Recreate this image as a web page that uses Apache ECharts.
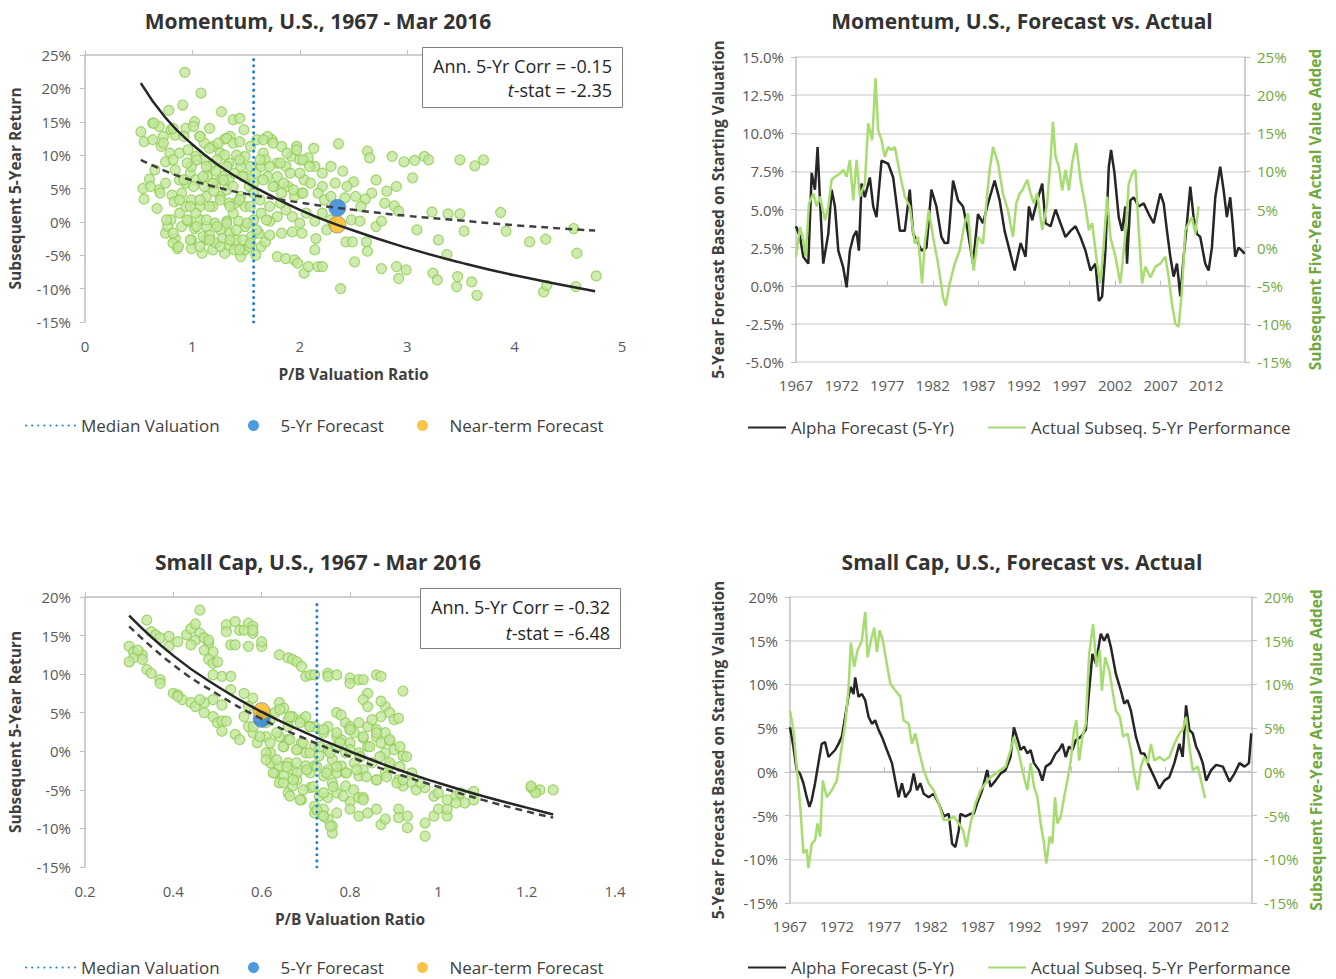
<!DOCTYPE html>
<html>
<head>
<meta charset="utf-8">
<title>Momentum / Small Cap forecasts</title>
<script src="https://cdn.jsdelivr.net/npm/echarts@6/dist/echarts.min.js"></script>
<style>
  html, body { margin: 0; padding: 0; background: #fff; }
  #main { width: 1336px; height: 979px; }
</style>
</head>
<body>
<div id="main"></div>
<script>
// ---- data ----
// momentum scatter: [P/B, subsequent 5-yr return %]
const momScatter = [
  [0.93,22.4],[1.08,19.3],[1.27,16.5],[0.91,17.5],[0.78,16.7],[0.63,14.8],[0.52,13.5],[0.55,12.0],[0.69,14.3],[0.80,13.8],
  [0.94,14.0],[1.02,15.0],[1.16,14.0],[1.30,12.4],[1.38,15.3],[1.44,15.5],[1.48,13.8],[1.35,12.8],[0.63,12.3],[0.73,12.8],
  [0.84,13.0],[1.07,12.8],[1.19,11.3],[1.26,10.3],[0.54,5.0],[0.55,3.4],[0.67,2.0],[0.60,6.4],[0.69,4.8],[0.75,5.8],
  [0.81,4.0],[0.83,3.0],[0.80,0.3],[0.75,-1.7],[0.77,-0.7],[0.84,-2.5],[0.82,-3.2],[0.86,-4.0],[0.99,-2.7],[0.99,-4.0],
  [1.09,-4.7],[1.13,-2.7],[1.19,-4.2],[1.30,-4.7],[1.34,-3.5],[1.39,-4.2],[1.45,-5.2],[1.49,-4.2],[1.53,-3.7],[1.64,-3.7],
  [1.68,-3.0],[1.59,-5.0],[1.79,-5.2],[1.87,-5.5],[1.95,-5.7],[1.98,-6.2],[2.04,-7.7],[2.08,-6.7],[2.17,-6.7],[2.21,-6.7],
  [2.14,-4.2],[2.15,-2.5],[2.25,-1.2],[2.38,-10.0],[2.43,-3.0],[2.49,-3.0],[2.51,-6.0],[2.62,-3.0],[2.63,-4.4],[2.76,-7.0],
  [2.90,-6.7],[2.92,-8.5],[2.99,-7.2],[3.09,-1.2],[3.24,-7.7],[3.28,-8.7],[3.29,-2.7],[3.37,-4.9],[3.46,-9.7],[3.47,-8.2],
  [3.53,-1.4],[3.60,-9.0],[3.65,-11.0],[3.92,-1.4],[4.14,-3.0],[4.29,-2.6],[4.27,-10.5],[4.30,-9.5],[4.55,-1.0],[4.58,-4.7],
  [4.57,-9.7],[4.76,-8.1],[3.87,1.4],[3.49,1.2],[3.38,1.2],[3.23,1.5],[3.49,9.3],[3.63,8.4],[3.71,9.3],[3.16,9.8],
  [3.20,9.3],[3.07,9.2],[2.97,9.0],[2.86,9.8],[3.05,6.6],[2.90,5.3],[2.81,4.6],[2.71,6.3],[2.63,10.6],[2.65,9.6],
  [2.88,2.4],[2.92,1.6],[2.79,2.8],[2.67,4.3],[2.61,3.4],[2.57,2.3],[2.52,3.8],[2.50,6.0],[2.44,5.3],[2.40,7.6],
  [2.36,11.7],[2.29,8.3],[2.21,5.3],[2.14,8.3],[2.13,11.0],[2.08,9.6],[2.04,6.3],[2.00,7.3],[1.97,11.3],[1.92,9.8],
  [1.87,8.3],[1.83,11.3],[1.79,8.8],[1.74,12.3],[1.70,12.8],[1.66,10.3],[1.60,12.3],[1.54,11.3],[1.49,9.8],[1.41,10.0],
  [1.34,8.8],[1.28,6.8],[1.22,5.8],[1.17,8.3],[1.11,9.3],[1.03,9.8],[0.98,7.3],[0.94,5.8],[0.88,6.3],[0.90,4.3],
  [0.99,3.3],[1.07,2.3],[1.13,3.8],[1.19,2.3],[1.26,3.8],[1.32,4.8],[1.40,2.8],[1.45,3.8],[1.53,5.3],[1.59,7.3],
  [1.64,8.3],[1.70,6.8],[1.76,5.3],[1.83,4.3],[1.89,5.3],[1.95,3.8],[2.02,4.3],[2.10,5.8],[2.17,4.3],[2.23,3.3],
  [2.29,3.8],[2.33,5.8],[2.42,3.6],[2.48,0.3],[2.56,0.1],[2.71,-0.7],[2.76,0.1],[2.29,0.3],[2.21,1.3],[2.14,0.1],
  [2.06,1.3],[2.00,-0.2],[1.93,0.8],[1.87,1.8],[1.79,0.8],[1.72,0.1],[1.64,1.3],[1.57,0.3],[1.49,-0.7],[1.43,0.1],
  [1.38,1.3],[1.32,0.1],[1.26,-1.2],[1.21,-0.2],[1.13,-0.7],[1.07,0.3],[1.02,-1.0],[0.96,0.1],[0.90,-0.7],[0.88,1.3],
  [0.94,2.3],[1.03,1.3],[1.10,-2.2],[1.16,-2.0],[1.22,-3.2],[1.28,-2.5],[1.35,-1.7],[1.41,-2.7],[1.47,-2.7],[1.55,-2.2],
  [1.62,-1.7],[1.72,-2.0],[1.83,-1.7],[1.93,-1.5],[2.02,-1.7],[1.03,6.3],[1.11,5.3],[1.20,4.6],[1.34,6.3],[1.39,7.3],
  [1.49,6.8],[1.57,4.3],[1.49,2.3],[1.34,2.8],[1.22,7.6],[1.14,6.8],[0.99,8.3],[0.84,7.8],[0.79,10.3],[0.88,10.3],
  [0.96,10.8],[1.11,11.8],[1.30,10.0],[1.45,8.3],[1.68,9.3],[1.79,6.8],[1.91,7.3],[2.00,9.3],[2.21,7.3],[0.65,7.8],
  [0.71,11.3],[0.75,9.0],
  [0.64,14.8],[0.73,11.8],[0.82,14.0],[0.92,12.8],[1.01,14.3],[1.07,12.8],[1.16,11.0],[1.24,11.8],[1.32,12.5],[1.38,11.8],
  [1.44,12.0],[1.66,12.3],[1.75,11.8],[1.88,10.3],[1.97,10.8],[2.03,9.3],[2.09,8.3],[0.82,9.3],[0.95,8.8],[1.04,9.3],
  [1.13,8.3],[1.23,9.3],[1.32,8.3],[1.44,9.3],[1.54,8.3],[1.63,9.3],[1.72,8.3],[1.82,8.8],[0.92,6.3],[1.01,5.3],
  [1.10,6.8],[1.19,5.8],[1.29,6.3],[1.38,5.3],[1.47,6.8],[1.57,5.8],[1.66,6.3],[1.75,5.3],[1.85,5.8],[1.94,4.8],
  [2.03,4.3],[0.88,3.3],[0.98,2.3],[1.07,3.3],[1.16,2.3],[1.26,3.3],[1.35,2.3],[1.44,3.3],[1.54,2.3],[1.63,3.3],
  [1.72,2.3],[1.82,2.8],[0.95,0.3],[1.04,-0.7],[1.13,0.3],[1.23,-0.7],[1.32,-0.2],[1.41,-1.2],[1.51,-0.2],[1.60,-1.2],
  [1.69,0.3],[0.98,-2.7],[1.07,-3.7],[1.16,-2.7],[1.26,-3.7],[1.35,-2.7],[1.44,-4.2],[1.54,-3.2],[0.87,-3.7],[0.82,-1.7],
  [0.76,0.3],[0.70,4.3],[0.61,5.3]
];
const momMedianPB = 1.57;
const momForecast5 = [2.35, 2.1];
const momNearTerm = [2.35, -0.4];
const momCurveX = [0.52, 0.75, 1, 1.25, 1.5, 2, 2.5, 3, 3.5, 4, 4.75];
const momNearCurve = [20.8, 15.6, 11.6, 8.4, 5.9, 1.8, -1.3, -3.9, -6.1, -8.0, -10.4];
const momFiveCurve = [9.3, 7.6, 6.2, 5.1, 4.2, 2.9, 1.8, 0.9, 0.2, -0.5, -1.3];

// momentum forecast vs actual (years as decimals)
const momFcYears = [1967.0,1967.44,1967.8,1968.35,1968.72,1969.08,1969.37,1969.63,1969.99,1970.54,1970.91,1971.27,1971.64,1972.18,1972.55,1972.91,1973.28,1973.64,1973.9,1974.19,1974.55,1975.1,1975.47,1975.83,1976.38,1977.11,1977.66,1978.02,1978.39,1978.93,1979.48,1979.85,1980.39,1980.76,1981.31,1981.85,1982.4,1982.95,1983.31,1983.68,1984.23,1984.77,1985.32,1985.69,1986.05,1986.42,1986.96,1987.51,1988.06,1988.79,1989.34,1989.88,1990.43,1990.98,1991.64,1992.18,1992.55,1992.91,1993.46,1994.01,1994.37,1994.92,1995.47,1996.01,1996.56,1997.11,1997.66,1998.2,1998.75,1999.3,1999.85,2000.21,2000.58,2000.94,2001.31,2001.56,2001.93,2002.4,2002.77,2003.13,2003.31,2003.68,2004.04,2004.59,2005.14,2005.69,2006.23,2006.96,2007.33,2007.69,2008.06,2008.42,2008.79,2009.15,2009.52,2009.88,2010.25,2010.61,2010.98,2011.34,2011.89,2012.26,2012.62,2012.99,2013.53,2013.9,2014.26,2014.63,2014.92,2015.18,2015.54,2015.91,2016.2];
const momFcVals = [3.9,3.2,1.9,1.45,7.4,6.3,9.1,5.6,1.45,3.4,6.3,5.2,2.3,1.2,-0.1,2.3,3.2,3.6,2.3,6.7,5.8,7.1,5.2,4.5,8.2,8.0,7.1,5.4,3.6,3.6,6.3,3.4,2.8,2.3,2.5,6.3,5.2,3.2,2.8,2.8,6.9,5.6,5.2,4.1,2.8,1.45,4.7,4.1,5.4,6.9,5.6,3.6,2.3,1.0,2.8,1.9,5.2,4.3,5.6,6.7,4.1,3.9,5.0,4.1,3.2,3.6,3.9,3.2,2.3,1.0,1.45,-1.0,-0.7,2.3,7.8,8.9,7.4,4.5,3.6,5.2,1.45,5.6,5.8,5.2,5.4,4.7,4.1,6.05,5.4,3.6,1.9,0.6,1.45,-0.7,1.9,4.1,6.5,4.5,3.4,3.2,1.45,1.0,2.5,5.8,7.8,6.3,4.5,5.8,3.9,1.9,2.5,2.3,2.1];
const momActYears = [1967.0,1967.44,1967.8,1968.06,1968.42,1968.9,1969.26,1969.63,1970.18,1970.54,1970.91,1971.27,1971.82,1972.18,1972.55,1972.91,1973.28,1973.64,1974.01,1974.55,1974.92,1975.36,1975.72,1976.01,1976.38,1976.74,1977.11,1977.47,1977.84,1978.39,1978.93,1979.48,1980.03,1980.39,1980.83,1981.12,1981.56,1982.04,1982.58,1983.13,1983.42,1983.86,1984.41,1984.96,1985.5,1985.87,1986.23,1986.49,1986.96,1987.51,1987.88,1988.24,1988.61,1989.15,1989.7,1990.25,1990.8,1991.16,1991.53,1991.82,1992.36,1992.73,1993.09,1993.46,1994.01,1994.55,1994.92,1995.18,1995.47,1995.83,1996.2,1996.56,1996.93,1997.29,1997.73,1998.2,1998.75,1999.12,1999.48,2000.03,2000.39,2000.76,2001.12,2001.49,2002.04,2002.58,2003.13,2003.5,2003.86,2004.23,2004.59,2004.96,2005.32,2005.87,2006.42,2006.96,2007.51,2007.88,2008.24,2008.61,2008.97,2009.34,2009.7,2010.07,2010.43,2010.8,2011.16];
const momActVals = [-1.2,2.7,1.0,-1.2,5.8,7.1,5.4,6.7,3.6,5.4,8.9,9.3,9.7,10.2,9.3,11.5,6.2,11.5,6.7,8.4,16.3,14.1,22.2,15.4,14.1,11.9,13.2,12.8,13.2,9.7,6.7,5.4,0.5,1.4,-4.7,0.5,4.9,1.4,-2.1,-6.5,-7.6,-4.7,-2.1,-0.35,3.2,4.5,-0.35,-3.0,1.4,0.5,5.8,10.2,13.2,11.1,7.1,4.9,1.4,5.8,7.1,7.5,8.9,7.1,5.8,7.1,2.3,5.8,11.5,16.5,11.9,10.6,7.5,10.2,7.5,11.1,13.7,8.9,5.4,2.3,3.2,-2.1,-4.7,0.5,6.7,1.4,-1.2,-4.7,1.8,8.4,9.7,10.2,2.3,-4.7,-2.5,-3.9,-2.5,-2.1,-1.2,-3.9,-7.4,-10.0,-10.4,-5.6,2.3,3.2,4.0,1.8,5.4];

// small cap scatter
const smallScatter = [
  [0.30,13.6],[0.31,12.9],[0.31,12.1],[0.30,11.6],[0.33,12.5],[0.33,11.9],[0.32,13.1],[0.34,17.0],[0.35,15.5],[0.36,15.1],
  [0.37,14.7],[0.39,14.9],[0.39,13.6],[0.41,14.2],[0.34,10.6],[0.35,10.1],[0.37,9.3],[0.37,8.8],[0.40,7.5],[0.41,7.3],
  [0.42,6.7],[0.41,7.1],[0.44,6.3],[0.45,5.8],[0.47,6.3],[0.47,5.0],[0.49,4.5],[0.50,3.7],[0.51,2.6],[0.51,3.9],
  [0.52,3.9],[0.54,2.2],[0.55,1.5],[0.51,9.7],[0.53,9.7],[0.53,8.0],[0.51,6.0],[0.49,6.7],[0.46,6.7],[0.49,9.9],
  [0.43,15.1],[0.44,15.9],[0.45,16.5],[0.46,18.3],[0.46,15.3],[0.45,14.4],[0.47,14.7],[0.48,14.0],[0.47,13.1],[0.48,14.4],
  [0.49,12.9],[0.48,11.9],[0.49,11.4],[0.50,11.6],[0.44,13.8],[0.52,16.4],[0.52,15.5],[0.54,16.8],[0.53,13.8],[0.54,13.8],
  [0.55,15.7],[0.56,15.7],[0.57,16.6],[0.58,16.2],[0.57,13.6],[0.60,13.6],[0.60,14.2],[0.58,15.3],[0.58,15.7],
  [0.64,12.5],[0.66,12.1],[0.67,11.9],[0.68,11.6],[0.69,11.0],[0.70,9.7],[0.71,9.9],[0.72,9.9],[0.75,10.1],[0.75,9.7],
  [0.77,9.9],[0.80,9.5],[0.80,8.8],[0.82,9.3],[0.83,9.3],[0.84,7.5],[0.86,9.9],[0.87,9.7],[0.92,7.8],[0.88,5.8],
  [0.89,5.0],[0.90,4.1],[0.91,4.3],[0.87,4.5],[0.87,6.5],
  [0.56,7.5],[0.58,6.9],[0.57,5.8],[0.56,4.5],[0.57,3.2],[0.58,2.4],[0.59,1.1],[0.61,1.9],[0.61,3.7],[0.63,5.0],
  [0.64,6.3],[0.65,5.6],[0.66,4.1],[0.66,3.2],[0.67,4.5],[0.69,4.1],[0.70,4.5],[0.71,3.2],[0.72,3.2],[0.74,2.4],
  [0.75,3.2],[0.77,5.0],[0.78,4.7],[0.79,3.7],[0.80,2.8],[0.81,2.4],[0.83,1.7],[0.84,3.2],[0.85,4.1],[0.86,1.9],
  [0.87,1.1],[0.89,1.3],[0.90,0.2],[0.92,-0.6],[0.88,-0.2],[0.84,0.6],[0.82,-0.2],[0.80,1.1],[0.79,-0.2],[0.77,0.6],
  [0.76,-1.1],[0.75,0.2],[0.73,-0.6],[0.72,0.6],[0.70,-0.2],[0.69,1.1],[0.68,0.2],[0.66,1.5],[0.65,0.6],[0.64,1.9],
  [0.62,-0.2],[0.62,-1.5],[0.63,-2.8],[0.64,-1.9],[0.65,-3.2],[0.66,-1.5],[0.67,-2.4],[0.68,-3.7],[0.68,-2.8],[0.70,-1.9],
  [0.71,-2.8],[0.72,-1.9],[0.74,-3.2],[0.75,-2.4],[0.76,-4.1],[0.77,-2.8],[0.78,-1.9],[0.79,-2.8],[0.81,-1.5],[0.82,-3.2],
  [0.83,-2.4],[0.85,-1.5],[0.86,-3.7],[0.88,-2.8],[0.89,-1.9],[0.91,-3.7],[0.92,-4.5],[0.94,-2.8],[0.64,-4.1],[0.66,-5.4],
  [0.67,-4.5],[0.69,-6.3],[0.71,-4.7],[0.73,-5.8],[0.75,-6.0],[0.77,-5.4],[0.79,-4.5],[0.80,-6.5],[0.82,-6.0],[0.83,-6.0],
  [0.72,-7.1],[0.72,-8.0],[0.74,-7.5],[0.74,-8.4],[0.75,-8.8],[0.76,-9.7],[0.76,-10.6],[0.77,-8.0],[0.80,-7.5],[0.82,-8.4],
  [0.84,-8.0],[0.86,-7.5],[0.87,-9.5],[0.88,-8.8],[0.91,-7.5],[0.91,-8.6],[0.93,-8.4],[0.93,-9.9],[0.97,-11.0],[0.97,-9.3],
  [0.99,-8.4],[1.00,-7.5],[1.02,-8.4],[1.02,-7.5],[0.94,-4.1],[0.95,-5.0],[0.97,-4.7],[0.99,-5.8],[1.00,-5.4],[1.02,-6.3],
  [1.04,-5.8],[1.05,-5.4],[1.06,-6.7],[1.08,-5.2],[1.08,-6.3],[1.04,-6.7],[0.96,-4.1],[0.83,6.7],[0.84,5.8],[0.80,3.2],
  [0.82,3.7],[0.86,2.8],[0.88,2.4],[1.21,-4.7],[1.22,-5.2],[1.23,-5.0],[1.22,-5.4],[1.26,-5.0],[1.21,-4.5],[0.77,1.9],
  [0.78,1.5],[0.61,-0.2],[0.61,-1.1],
  [0.581,3.2],[0.596,1.9],[0.619,1.1],[0.634,2.4],[0.649,0.6],[0.664,1.5],[0.679,0.2],[0.694,1.1],[0.709,-0.2],[0.732,0.6],
  [0.755,-0.2],[0.777,1.1],[0.80,0.2],[0.823,-0.7],[0.845,0.6],[0.868,-0.7],[0.89,-1.5],[0.913,-2.0],[0.634,-1.1],[0.657,-2.0],
  [0.679,-1.5],[0.702,-2.4],[0.725,-2.0],[0.747,-2.8],[0.77,-2.0],[0.792,-2.8],[0.815,-2.4],[0.837,-3.3],[0.86,-3.7],[0.883,-3.3],
  [0.906,-4.1],[0.626,-2.8],[0.649,-4.1],[0.672,-3.7],[0.694,-5.0],[0.717,-4.6],[0.74,-5.4],[0.762,-4.6],[0.785,-5.8],[0.808,-5.0],
  [0.83,-6.3],[0.664,-5.8],[0.687,-6.3],[0.725,-7.6],[0.74,-8.4],[0.755,-9.7],[0.619,4.1],[0.641,5.4],[0.664,4.5],[0.687,3.7],
  [0.709,3.2],[0.74,2.8],[0.77,2.4],[0.80,2.8],[0.83,1.9],[0.86,2.4],[0.89,1.5],[0.913,0.6],[0.928,-0.7],[0.92,-3.7]
];
const smallMedianPB = 0.725;
const smallForecast5 = [0.6, 4.2];
const smallNearTerm = [0.6, 5.2];
const smallCurveX = [0.3, 0.4, 0.5, 0.6, 0.7, 0.8, 0.9, 1.0, 1.1, 1.2, 1.26];
const smallNearCurve = [17.6, 12.4, 8.4, 5.1, 2.4, 0.0, -2.2, -4.1, -5.8, -7.3, -8.2];
const smallFiveCurve = [16.2, 11.2, 7.4, 4.2, 1.6, -0.7, -2.8, -4.6, -6.3, -7.8, -8.6];

const smallFcYears = [1967.0,1967.36,1967.71,1968.07,1968.43,1968.78,1969.07,1969.32,1969.67,1970.03,1970.38,1970.74,1971.1,1971.45,1971.81,1972.17,1972.52,1972.88,1973.23,1973.48,1973.77,1973.95,1974.3,1974.66,1975.02,1975.37,1975.73,1976.08,1976.44,1976.8,1977.33,1977.87,1978.22,1978.58,1978.93,1979.29,1979.83,1980.18,1980.54,1980.89,1981.25,1981.78,1982.32,1982.85,1983.39,1983.92,1984.28,1984.63,1984.99,1985.17,1985.7,1986.24,1986.59,1986.95,1987.48,1988.02,1988.37,1988.91,1989.44,1989.98,1990.51,1990.87,1991.4,1991.58,1991.94,1992.3,1992.65,1993.01,1993.54,1993.9,1994.26,1994.79,1995.32,1995.68,1996.04,1996.39,1996.75,1997.11,1997.46,1997.99,1998.53,1998.89,1999.24,1999.6,2000.13,2000.49,2000.85,2001.2,2001.74,2002.27,2002.63,2002.98,2003.34,2003.88,2004.41,2004.77,2005.3,2005.83,2006.37,2006.9,2007.44,2007.97,2008.51,2008.86,2009.22,2009.57,2009.93,2010.29,2010.64,2011.0,2011.36,2011.89,2012.43,2013.14,2013.85,2014.38,2014.92,2015.45,2015.92,2016.17];
const smallFcVals = [5.1,2.9,0.2,-0.2,-1.3,-2.9,-4.0,-3.2,-1.3,1.0,3.2,3.4,1.7,2.1,2.5,3.2,4.0,6.3,8.6,9.7,8.9,10.8,8.6,8.9,8.2,6.3,5.5,5.9,4.8,4.0,2.5,1.0,-1.0,-2.9,-1.3,-2.9,-2.1,-0.2,-2.1,-1.3,-2.5,-2.9,-2.5,-3.6,-5.1,-4.8,-8.2,-8.6,-6.7,-4.8,-5.1,-4.8,-4.8,-3.6,-2.1,0.2,-1.7,-1.0,-0.2,0.2,1.7,5.1,3.2,2.5,2.9,2.1,2.5,1.0,0.2,-1.0,0.6,1.0,2.1,2.5,3.2,1.7,2.9,2.5,3.6,4.0,4.8,9.3,13.5,12.4,15.8,15.0,15.8,14.3,11.2,9.3,7.8,8.2,7.0,4.0,2.1,2.1,0.6,-0.6,-1.9,-1.0,-0.6,1.0,3.2,1.7,7.6,4.8,4.4,2.9,2.1,1.0,-1.0,0.2,0.8,0.6,-1.1,-0.2,1.0,0.6,1.0,4.4];
const smallActYears = [1967.0,1967.36,1967.71,1968.07,1968.43,1968.78,1968.96,1969.32,1969.67,1969.92,1970.21,1970.49,1970.92,1971.45,1971.99,1972.52,1972.88,1973.23,1973.48,1973.84,1974.2,1974.66,1975.02,1975.27,1975.62,1975.98,1976.26,1976.55,1976.9,1977.26,1977.69,1978.22,1978.76,1979.11,1979.65,1980.0,1980.36,1980.72,1981.25,1981.78,1982.32,1982.85,1983.39,1983.92,1984.46,1984.99,1985.45,1985.81,1986.24,1986.77,1987.31,1987.84,1988.37,1988.91,1989.44,1989.98,1990.51,1990.87,1991.4,1991.94,1992.3,1992.65,1993.01,1993.37,1993.72,1994.08,1994.33,1994.68,1994.97,1995.25,1995.5,1995.86,1996.22,1996.57,1996.93,1997.28,1997.53,1997.82,1998.17,1998.53,1998.89,1999.31,1999.67,2000.03,2000.24,2000.6,2001.03,2001.38,2001.74,2002.16,2002.52,2002.98,2003.34,2003.7,2004.05,2004.41,2004.77,2005.12,2005.48,2005.83,2006.37,2006.9,2007.44,2007.97,2008.51,2008.86,2009.22,2009.57,2009.93,2010.47,2010.82,2011.25];
const smallActVals = [7.0,4.8,0.6,-3.6,-9.3,-8.9,-11.0,-8.2,-7.8,-5.9,-7.4,-1.0,-2.9,-2.1,-1.0,2.9,5.5,9.3,14.8,12.0,13.9,15.0,18.3,13.1,15.0,16.5,13.7,16.2,15.0,12.7,10.1,9.3,8.6,5.9,5.5,3.2,4.4,2.5,0.2,-1.3,-2.1,-3.6,-5.5,-5.5,-5.1,-5.9,-6.7,-8.6,-5.9,-3.6,-2.1,-1.3,-0.6,-0.2,0.2,0.6,2.5,4.0,2.1,-0.6,-2.1,1.0,-1.7,-2.9,-5.9,-8.2,-10.5,-7.4,-8.2,-2.9,-5.9,-5.1,-2.9,-1.0,1.3,4.8,5.9,1.3,4.0,5.5,13.5,16.9,12.0,13.9,9.3,13.1,11.6,9.3,7.0,6.3,4.0,4.4,2.5,-0.2,-2.1,0.6,1.7,1.0,3.2,1.3,1.7,1.3,1.7,3.2,4.4,4.8,6.3,2.9,0.2,0.6,-1.0,-3.0];

const yearTicks = [1967, 1972, 1977, 1982, 1987, 1992, 1997, 2002, 2007, 2012];

// ---- styling ----
const FONT = 'Open Sans';
const TXT = '#404040';
const TICK = '#595959';
const AXIS = '#bfbfbf';
const GRIDLINE = '#d9d9d9';
const GREEN_TXT = '#6fa83c';
const LIGHT_GREEN = '#a6dc70';
const BLUE = '#1f7fd8';
const ORANGE = '#f7b519';
const TICK_SIZE = 15;
const NAME_SIZE = 15.5;

function pairs(xs, ys) { return xs.map(function (x, i) { return [x, ys[i]]; }); }

function scatterX(grid, min, max, interval, fmt) {
  return [{
    gridIndex: grid, type: 'value', min: min, max: max, interval: interval,
    axisLine: { show: false }, axisTick: { show: false }, splitLine: { show: false },
    axisLabel: { margin: 16, fontSize: TICK_SIZE, color: TICK, formatter: fmt },
    name: 'P/B Valuation Ratio', nameLocation: 'middle', nameGap: 44,
    nameTextStyle: { fontWeight: 'bold', fontSize: NAME_SIZE, color: TXT }
  }, {
    gridIndex: grid, type: 'value', min: min, max: max, interval: interval,
    axisLine: { show: true, onZero: true, lineStyle: { color: AXIS, width: 1.5 } },
    axisTick: { show: true, length: 5, lineStyle: { color: AXIS } },
    axisLabel: { show: false }, splitLine: { show: false }
  }];
}

function timeX(grid, zeroY) {
  return [{
    gridIndex: grid, type: 'value', min: 1967, max: 2016.25,
    axisLine: { show: false }, axisTick: { show: false }, splitLine: { show: false },
    axisLabel: { margin: 15, fontSize: TICK_SIZE, color: TICK, customValues: yearTicks, formatter: function (v) { return String(v); } }
  }, {
    gridIndex: grid, type: 'value', min: 1967, max: 2016.25,
    axisLine: { show: true, onZero: true, onZeroAxisIndex: zeroY, lineStyle: { color: AXIS, width: 1.5 } },
    axisTick: { show: true, length: 5, customValues: yearTicks, lineStyle: { color: AXIS } },
    axisLabel: { show: false }, splitLine: { show: false }
  }];
}

function scatterY(grid, min, max) {
  return {
    gridIndex: grid, type: 'value', min: min, max: max, interval: 5,
    axisLine: { show: true, lineStyle: { color: AXIS, width: 1.5 } },
    axisTick: { show: true, length: 5, lineStyle: { color: AXIS } },
    splitLine: { show: false },
    axisLabel: { margin: 14, fontSize: TICK_SIZE, color: TICK, formatter: '{value}%' },
    name: 'Subsequent 5-Year Return', nameLocation: 'middle', nameGap: 62,
    nameTextStyle: { fontWeight: 'bold', fontSize: NAME_SIZE, color: TXT }
  };
}

function lineY(grid, pos, min, max, interval, fmt, color, name, gap) {
  return {
    gridIndex: grid, type: 'value', position: pos, min: min, max: max, interval: interval,
    axisLine: { show: true, lineStyle: { color: AXIS, width: 1.5 } },
    axisTick: { show: true, length: 5, lineStyle: { color: AXIS } },
    splitLine: { show: pos === 'left', lineStyle: { color: GRIDLINE, width: 1.5 } },
    axisLabel: { margin: 12, fontSize: TICK_SIZE, color: color, formatter: fmt },
    name: name, nameLocation: 'middle', nameGap: gap, nameRotate: 90,
    nameTextStyle: { fontWeight: 'bold', fontSize: NAME_SIZE, color: pos === 'left' ? TXT : GREEN_TXT }
  };
}

const cloudStyle = { color: '#c3e69c', borderColor: '#8fcd52', borderWidth: 1.2 };

function scatterSeries(xi, yi, cloud, median, medTop, cx, nearY, fiveY, f5, nt) {
  return [
    { name: 'cloud', type: 'scatter', xAxisIndex: xi, yAxisIndex: yi, symbolSize: 10,
      itemStyle: cloudStyle, data: cloud, silent: true },
    { name: 'Median Valuation', type: 'line', xAxisIndex: xi, yAxisIndex: yi, symbol: 'none',
      itemStyle: { color: BLUE },
      lineStyle: { color: BLUE, width: 3, type: [0.1, 6], cap: 'round' },
      data: [[median, -15], [median, medTop]] },
    { name: 'nearCurve', type: 'line', xAxisIndex: xi, yAxisIndex: yi, symbol: 'none', smooth: true,
      lineStyle: { color: '#262626', width: 2.5 }, data: pairs(cx, nearY) },
    { name: 'fiveCurve', type: 'line', xAxisIndex: xi, yAxisIndex: yi, symbol: 'none', smooth: true,
      lineStyle: { color: '#404040', width: 2.5, type: [7, 5] }, data: pairs(cx, fiveY) },
    { name: '5-Yr Forecast', type: 'scatter', xAxisIndex: xi, yAxisIndex: yi, symbolSize: 17,
      itemStyle: { color: BLUE, borderColor: '#7f8fa6', borderWidth: 1 }, data: [f5] },
    { name: 'Near-term Forecast', type: 'scatter', xAxisIndex: xi, yAxisIndex: yi, symbolSize: 17,
      itemStyle: { color: ORANGE, borderColor: '#8c8c8c', borderWidth: 1 }, data: [nt] }
  ];
}

function lineSeries(xi, yl, yr, fy, fv, ay, av) {
  return [
    { name: 'Alpha Forecast (5-Yr)', type: 'line', xAxisIndex: xi, yAxisIndex: yl, symbol: 'none',
      lineStyle: { color: '#262626', width: 2.5 }, itemStyle: { color: '#262626' }, data: pairs(fy, fv) },
    { name: 'Actual Subseq. 5-Yr Performance', type: 'line', xAxisIndex: xi, yAxisIndex: yr, symbol: 'none',
      lineStyle: { color: LIGHT_GREEN, width: 2.5 }, itemStyle: { color: LIGHT_GREEN }, data: pairs(ay, av) }
  ];
}

function legend(left, top, name, extra) {
  return Object.assign({
    left: left, top: top, data: [name], selectedMode: false, itemGap: 0,
    textStyle: { fontSize: 17, color: TXT, fontFamily: FONT }
  }, extra);
}

// line legends: keep only the line, hide the marker dot
const lineIcon = { itemWidth: 38, itemHeight: 14, itemStyle: { opacity: 0 }, lineStyle: { width: 2 } };
const dotIcon = { icon: 'circle', itemWidth: 44, itemHeight: 11, itemStyle: { borderWidth: 0 } };

function statBox(x, y, corr, tstat, gap) {
  return [
    { type: 'rect', left: x, top: y, shape: { width: 200, height: 60 },
      style: { fill: '#fff', stroke: '#7f7f7f', lineWidth: 1 }, z: 10 },
    { type: 'text', right: 1336 - (x + 190), top: y + 10, z: 11,
      style: { text: 'Ann. 5-Yr Corr = ' + corr, font: '18px "Open Sans"', fill: '#262626' } },
    { type: 'text', right: 1336 - (x + 190), top: y + gap, z: 11,
      style: { text: '{i|t}-stat = ' + tstat, font: '18px "Open Sans"', fill: '#262626',
        rich: { i: { fontStyle: 'italic', fontSize: 18, fontFamily: FONT, fill: '#262626' } } } }
  ];
}

const chart = echarts.init(document.getElementById('main'), null, { renderer: 'svg' });

const option = {
  animation: false,
  backgroundColor: '#fff',
  textStyle: { fontFamily: FONT },
  title: [
    { text: 'Momentum, U.S., 1967 - Mar 2016', left: 313, top: 5, textAlign: 'center',
      textStyle: { fontSize: 21, fontWeight: 'bold', color: '#333' } },
    { text: 'Momentum, U.S., Forecast vs. Actual', left: 1017, top: 5, textAlign: 'center',
      textStyle: { fontSize: 21, fontWeight: 'bold', color: '#333' } },
    { text: 'Small Cap, U.S., 1967 - Mar 2016', left: 313, top: 546, textAlign: 'center',
      textStyle: { fontSize: 21, fontWeight: 'bold', color: '#333' } },
    { text: 'Small Cap, U.S., Forecast vs. Actual', left: 1017, top: 546, textAlign: 'center',
      textStyle: { fontSize: 21, fontWeight: 'bold', color: '#333' } }
  ],
  grid: [
    { left: 85, top: 55, width: 537, height: 267 },
    { left: 796, top: 57, width: 449, height: 305 },
    { left: 85, top: 597, width: 530, height: 270 },
    { left: 790, top: 597, width: 462, height: 306 }
  ],
  xAxis: [].concat(
    scatterX(0, 0, 5, 1, function (v) { return String(v); }),
    timeX(1, 1),
    scatterX(2, 0.2, 1.4, 0.2, function (v) { return String(parseFloat(v.toFixed(1))); }),
    timeX(3, 4)
  ),
  yAxis: [
    scatterY(0, -15, 25),
    lineY(1, 'left', -5, 15, 2.5, function (v) { return v.toFixed(1) + '%'; }, TICK,
      '5-Year Forecast Based on Starting Valuation', 70),
    lineY(1, 'right', -15, 25, 5, '{value}%', GREEN_TXT, 'Subsequent Five-Year Actual Value Added', 62),
    scatterY(2, -15, 20),
    lineY(3, 'left', -15, 20, 5, '{value}%', TICK, '5-Year Forecast Based on Starting Valuation', 64),
    lineY(3, 'right', -15, 20, 5, '{value}%', GREEN_TXT, 'Subsequent Five-Year Actual Value Added', 56)
  ],
  legend: [
    legend(20, 412, 'Median Valuation', { itemWidth: 50, itemHeight: 14, itemStyle: { opacity: 0 } }),
    legend(243, 412, '5-Yr Forecast', dotIcon),
    legend(412, 412, 'Near-term Forecast', dotIcon),
    legend(742, 414, 'Alpha Forecast (5-Yr)', lineIcon),
    legend(982, 414, 'Actual Subseq. 5-Yr Performance', lineIcon),
    legend(20, 954, 'Median Valuation', { itemWidth: 50, itemHeight: 14, itemStyle: { opacity: 0 } }),
    legend(243, 954, '5-Yr Forecast', dotIcon),
    legend(412, 954, 'Near-term Forecast', dotIcon),
    legend(742, 954, 'Alpha Forecast (5-Yr)', lineIcon),
    legend(982, 954, 'Actual Subseq. 5-Yr Performance', lineIcon)
  ],
  graphic: [].concat(
    statBox(422, 47, '-0.15', '-2.35', 34),
    statBox(420, 588, '-0.32', '-6.48', 36)
  ),
  series: [].concat(
    scatterSeries(0, 0, momScatter, momMedianPB, 24.5, momCurveX, momNearCurve, momFiveCurve, momForecast5, momNearTerm),
    lineSeries(2, 1, 2, momFcYears, momFcVals, momActYears, momActVals),
    scatterSeries(4, 3, smallScatter, smallMedianPB, 19.3, smallCurveX, smallNearCurve, smallFiveCurve, smallForecast5, smallNearTerm),
    lineSeries(6, 4, 5, smallFcYears, smallFcVals, smallActYears, smallActVals)
  )
};

chart.setOption(option);
window.addEventListener('resize', function () { chart.resize(); });
</script>
</body>
</html>
